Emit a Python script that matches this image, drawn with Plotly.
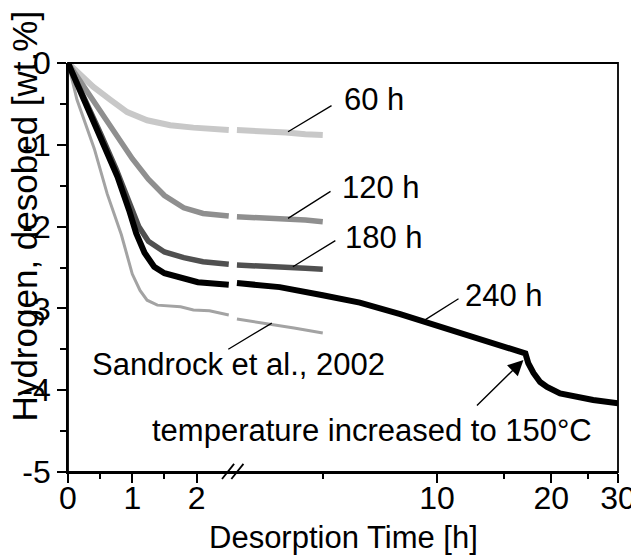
import math
import plotly.graph_objects as go

# desorption curves, left panel (linear time, 0-2.5 h)
t60_a = [0, 0.15, 0.39, 0.66, 0.92, 1.23, 1.59, 1.95, 2.25, 2.5]
h60_a = [0, -0.12, -0.29, -0.45, -0.60, -0.70, -0.76, -0.79, -0.81, -0.82]
t120_a = [0, 0.25, 0.5, 0.75, 1.0, 1.25, 1.5, 1.8, 2.1, 2.5]
h120_a = [0, -0.30, -0.60, -0.90, -1.17, -1.42, -1.62, -1.77, -1.84, -1.87]
t180_a = [0, 0.25, 0.5, 0.75, 1.0, 1.1, 1.25, 1.5, 1.8, 2.1, 2.5]
h180_a = [0, -0.42, -0.85, -1.30, -1.80, -2.00, -2.18, -2.31, -2.38, -2.43, -2.46]
t240_a = [0, 0.25, 0.56, 0.77, 0.95, 1.06, 1.19, 1.34, 1.5, 1.76, 2.02, 2.5]
h240_a = [0, -0.45, -0.98, -1.39, -1.80, -2.08, -2.32, -2.49, -2.57, -2.62, -2.68, -2.71]
tsan_a = [0, 0.14, 0.41, 0.61, 0.83, 1.0, 1.12, 1.23, 1.39, 1.75, 1.95, 2.2, 2.5]
hsan_a = [0, -0.45, -1.05, -1.60, -2.10, -2.58, -2.78, -2.90, -2.96, -2.98, -3.02, -3.03, -3.08]

# right panel (log time, 3-30 h)
t60_b = [2.97, 3.5, 4.0, 4.5, 5.0]
h60_b = [-0.82, -0.83, -0.85, -0.87, -0.88]
t120_b = [2.97, 3.5, 4.0, 4.5, 5.0]
h120_b = [-1.88, -1.89, -1.91, -1.92, -1.94]
t180_b = [2.97, 3.5, 4.0, 4.5, 5.0]
h180_b = [-2.47, -2.48, -2.49, -2.51, -2.52]
t240_b = [2.97, 3.4, 3.85, 5.0, 6.26, 8.0, 9.4, 11.5, 13, 15, 17.1, 17.4,
          17.96, 18.7, 19.5, 21.1, 22.9, 25.8, 30]
h240_b = [-2.69, -2.71, -2.74, -2.84, -2.93, -3.07, -3.17, -3.29, -3.37, -3.45,
          -3.55, -3.67, -3.79, -3.90, -3.96, -4.04, -4.08, -4.12, -4.16]
tsan_b = [2.97, 3.62, 4.2, 5.0]
hsan_b = [-3.13, -3.19, -3.24, -3.30]

y_ticks = [0, -1, -2, -3, -4, -5]
y_labels = ["0", "-1", "-2", "-3", "-4", "-5"]
y_minor = [-0.5, -1.5, -2.5, -3.5, -4.5]
xl_ticks = [0, 1, 2]
xl_minor = [0.5, 1.5]
xr_ticks = [10, 20, 30]
xr_minor = [5, 15, 25]

FONT = "Liberation Sans, Arial, sans-serif"

series = [
    (t60_a, h60_a, t60_b, h60_b, "#c8c8c8", 6),
    (t120_a, h120_a, t120_b, h120_b, "#8f8f8f", 5.5),
    (t180_a, h180_a, t180_b, h180_b, "#505050", 5.5),
    (tsan_a, hsan_a, tsan_b, hsan_b, "#a3a3a3", 3),
    (t240_a, h240_a, t240_b, h240_b, "#000000", 6),
]

fig = go.Figure()
for ta, ha, tb, hb, col, w in series:
    fig.add_trace(go.Scatter(x=ta, y=ha, mode="lines", xaxis="x", yaxis="y",
                             line=dict(color=col, width=w), showlegend=False))
    fig.add_trace(go.Scatter(x=tb, y=hb, mode="lines", xaxis="x2", yaxis="y",
                             line=dict(color=col, width=w), showlegend=False))

split = 0.3
axis_common = dict(showline=True, linecolor="black", linewidth=1.8, ticks="outside",
                   ticklen=9, tickwidth=1.8, tickcolor="black", showgrid=False,
                   zeroline=False, automargin=False,
                   tickfont=dict(size=32, color="black", family=FONT))
minor_x = dict(ticks="outside", ticklen=5, tickwidth=1.8, tickcolor="black")

# the page body adds an 8px offset, so the figure is a bit smaller than the window
fig.update_layout(
    template="none",
    width=631, height=547,
    margin=dict(l=60, r=21, t=55, b=83),
    plot_bgcolor="white", paper_bgcolor="white",
    font=dict(family=FONT, color="black"),
    xaxis=dict(domain=[0, split], range=[0, 2.566], anchor="y",
               tickmode="array", tickvals=xl_ticks, ticklabelstandoff=-12,
               minor=dict(tickmode="array", tickvals=xl_minor, **minor_x),
               **axis_common),
    xaxis2=dict(domain=[split, 1], type="log", range=[0.4624, 1.4771], anchor="y",
                tickmode="array", tickvals=xr_ticks, ticktext=[str(v) for v in xr_ticks],
                ticklabelstandoff=-12,
                minor=dict(tickmode="array", tickvals=xr_minor, **minor_x),
                **axis_common),
    yaxis=dict(domain=[0, 1], range=[-5, 0], anchor="x",
               tickmode="array", tickvals=y_ticks, ticktext=y_labels,
               minor=dict(tickmode="array", tickvals=y_minor, ticks="outside",
                          ticklen=6, tickwidth=1.8, tickcolor="black"),
               **axis_common),
)

# frame and axis break marks
fig.add_shape(type="rect", xref="paper", yref="paper", x0=0, x1=1, y0=0, y1=1,
              line=dict(color="black", width=1.8))
for dx in (-0.009, 0.008):
    fig.add_shape(type="line", xref="paper", yref="paper",
                  x0=split + dx - 0.011, x1=split + dx + 0.011, y0=-0.017, y1=0.02,
                  line=dict(color="black", width=1.8))

ann_font = dict(size=31, color="black", family=FONT)

# curve labels (axis, time, value, text)
labels = [
    ("x2", 5.61, -0.45, "60 h"),
    ("x2", 5.55, -1.52, "120 h"),
    ("x2", 5.65, -2.13, "180 h"),
    ("x2", 11.7, -2.84, "240 h"),
    ("x", 0.34, -3.69, "Sandrock et al., 2002"),
    ("x", 1.28, -4.49, "temperature increased to 150°C"),
]
for xr, xv, yv, txt in labels:
    xpos = math.log10(xv) if xr == "x2" else xv
    fig.add_annotation(x=xpos, y=yv, xref=xr, yref="y", text=txt, showarrow=False,
                       xanchor="left", yanchor="middle", font=ann_font)

# leader lines: (time, value, ax, ay) on the log axis
leaders = [
    (4.05, -0.84, 45, -27),
    (4.05, -1.90, 44, -28),
    (4.17, -2.49, 44, -27),
    (9.30, -3.14, 35, -22),
    (3.67, -3.18, -45, 27),
]
for xv, yv, ax, ay in leaders:
    fig.add_annotation(x=math.log10(xv), y=yv, xref="x2", yref="y", text="",
                       showarrow=True, arrowhead=0, arrowwidth=1.3, arrowcolor="black",
                       ax=ax, ay=ay)

fig.add_annotation(x=math.log10(16.9), y=-3.63, xref="x2", yref="y", text="",
                   showarrow=True, arrowhead=2, arrowsize=2.2, arrowwidth=1.4,
                   arrowcolor="black", ax=-48, ay=47)

# axis titles
fig.add_annotation(x=0.5, y=-0.159, xref="paper", yref="paper",
                   xanchor="center", yanchor="middle",
                   text="Desorption Time [h]", showarrow=False,
                   font=dict(size=31, color="black", family=FONT))
fig.add_annotation(x=-0.08, y=0.625, xref="paper", yref="paper",
                   xanchor="center", yanchor="middle",
                   text="Hydrogen, desobed [wt.%]", textangle=-90, showarrow=False,
                   font=dict(size=35, color="black", family=FONT))

fig.write_html("out.html")
